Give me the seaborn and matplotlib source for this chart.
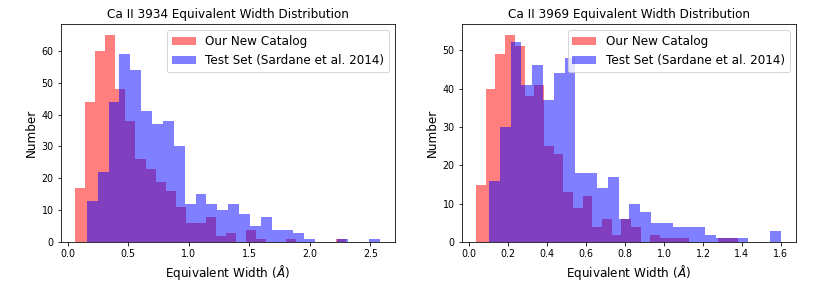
import numpy as np
import pandas as pd
import matplotlib
matplotlib.use("Agg")
import matplotlib.pyplot as plt
import seaborn as sns

# ---- data (27 bins per histogram) ----
n_bins = 27

# Ca II 3934
k_new_range = (0.063, 2.301)
k_new_counts = [17, 44, 60, 65, 48, 38, 26, 23, 19, 16, 11, 6, 6, 8, 2, 3, 0, 4, 1, 0, 0, 1, 0, 0, 0, 0, 1]
k_test_range = (0.159, 2.581)
k_test_counts = [13, 22, 44, 59, 54, 41, 37, 38, 30, 12, 15, 12, 10, 12, 9, 5, 8, 4, 4, 3, 1, 0, 0, 1, 0, 0, 1]

# Ca II 3969
h_new_range = (0.036, 1.378)
h_new_counts = [15, 40, 49, 54, 51, 38, 41, 25, 23, 13, 9, 12, 4, 6, 2, 6, 4, 0, 2, 1, 1, 1, 0, 0, 0, 1, 1]
h_test_range = (0.1026, 1.599)
h_test_counts = [16, 30, 52, 41, 46, 37, 44, 48, 18, 18, 14, 17, 6, 10, 8, 5, 5, 4, 4, 4, 2, 1, 1, 1, 0, 0, 3]

titles = ["Ca II 3934 Equivalent Width Distribution", "Ca II 3969 Equivalent Width Distribution"]
label_new = "Our New Catalog"
label_test = "Test Set (Sardane et al. 2014)"
xlabel = "Equivalent Width ($\\AA$)"
ylabel = "Number"


def hist_frame(rng, counts):
    edges = np.linspace(rng[0], rng[1], n_bins + 1)
    centers = 0.5 * (edges[:-1] + edges[1:])
    return pd.DataFrame({"x": centers, "w": np.asarray(counts, dtype=float)}), [float(v) for v in edges]


W, H = 821, 295
dpi = 72
fig = plt.figure(figsize=(W / dpi, H / dpi), dpi=dpi)
ax1 = fig.add_axes([60.7 / W, (H - 242.3) / H, (395 - 60.7) / W, (242.3 - 24.3) / H])
ax2 = fig.add_axes([461.7 / W, (H - 242.3) / H, (795.7 - 461.7) / W, (242.3 - 24.3) / H])

panels = [
    (ax1, k_new_range, k_new_counts, k_test_range, k_test_counts, titles[0]),
    (ax2, h_new_range, h_new_counts, h_test_range, h_test_counts, titles[1]),
]

for ax, nr, nc, tr, tc, title in panels:
    df_n, e_n = hist_frame(nr, nc)
    df_t, e_t = hist_frame(tr, tc)
    sns.histplot(data=df_n, x="x", weights="w", bins=e_n, color="red", alpha=0.5,
                 linewidth=0, label=label_new, ax=ax)
    sns.histplot(data=df_t, x="x", weights="w", bins=e_t, color="blue", alpha=0.5,
                 linewidth=0, label=label_test, ax=ax)
    ax.set_title(title, fontsize=12)
    ax.set_xlabel(xlabel, fontsize=12)
    ax.set_ylabel(ylabel, fontsize=12)
    ax.tick_params(labelsize=9.5)
    ax.legend(fontsize=12, loc="upper right")

ax1.set_xlim(-0.057, 2.703)
ax2.set_xlim(-0.038, 1.676)

fig.savefig("out.png", dpi=dpi)
